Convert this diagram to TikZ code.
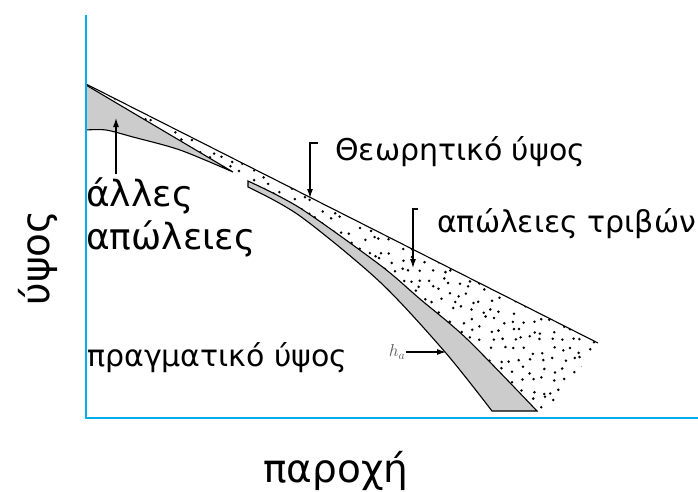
\documentclass[tikz,border=0pt]{standalone}
\usepackage{fontspec}
\setmainfont{DejaVu Sans}
\usetikzlibrary{positioning, arrows.meta}

\begin{document}
\begin{tikzpicture}[x=1pt, y=-1pt,
    lbl/.style={anchor=west, inner sep=0pt, font=\fontsize{30}{42}\selectfont},
    big/.style={anchor=west, inner sep=0pt, align=left, font=\fontsize{36}{43}\selectfont},
    ttl/.style={inner sep=0pt, font=\fontsize{39}{46}\selectfont},
    arw/.style={-{Latex[length=9pt, width=6pt]}, line width=1.1pt},
    axis/.style={cyan, line width=1.8pt},
    crv/.style={line width=1.1pt},
    loss/.style={fill=black!20},
]
\useasboundingbox (0,0) rectangle (698,491);

% friction losses (dotted strip under the theoretical line)
\begin{scope}
  \clip (86,85) -- (598,343) -- (550,411) -- (537,411)
        -- plot[smooth] coordinates {(537,411) (467,339) (420,299) (380,265) (300,208) (248,181)}
        -- (233,172) -- cycle;
  \pgfmathsetseed{11}
  \foreach \i in {0,...,52}
    \foreach \j in {0,...,33} {
      \pgfmathsetmacro\dx{88+\i*10+rnd*8}
      \pgfmathsetmacro\dy{86+\j*10+rnd*8}
      \fill (\dx,\dy) circle (1.4);
    }
\end{scope}

% other losses
\filldraw[loss, crv] (86,85) -- (233,172)
  -- plot[smooth] coordinates {(233,172) (180,150) (133,137) (106,130) (86,130)} -- cycle;

% actual head band
\filldraw[loss, crv]
  plot[smooth] coordinates {(248,181) (300,208) (380,265) (420,299) (467,339) (537,411)}
  -- (492,411)
  -- plot[smooth] coordinates {(492,411) (445,352) (380,282) (300,216) (248,187)}
  -- cycle;

% theoretical head
\draw[crv] (86,84) -- (598,343);

% axes
\coordinate (top) at (86,15);
\coordinate (orig) at (86,418);
\coordinate (right) at (698,418);
\draw[axis] (top) -- (orig) -- (right);

% labels
\node[lbl] (theo) at (335,152) {Θεωρητικό ύψος};
\node[lbl] (fric) at (437,224) {απώλειες τριβών};
\node[big] (other) at (86,217) {άλλες\\απώλειες};
\node[lbl] (real) at (87,358) {πραγματικό ύψος};
\node[ttl, rotate=90] (yax) at (38,258) {ύψος};
\node[ttl] (xax) at (336,471) {παροχή};
\node[inner sep=1pt, font=\fontsize{17}{18}\selectfont, text=black!65] (ha) at (397,352) {$h_a$};

% pointers
\coordinate (theoend) at (318,143);
\coordinate (theoknee) at (310,143);
\coordinate (theotip) at (310,198);
\draw[arw] (theoend) -- (theoknee) -- (theotip);

\coordinate (fricend) at (418,209);
\coordinate (fricknee) at (413,209);
\coordinate (frictip) at (413,268);
\draw[arw] (fricend) -- (fricknee) -- (frictip);

\coordinate (otherfoot) at (116,174);
\coordinate (othertip) at (116,118);
\draw[arw] (otherfoot) -- (othertip);

\coordinate (hatip) at (446,352);
\draw[arw] (ha.east) -- (hatip);
\end{tikzpicture}
\end{document}
